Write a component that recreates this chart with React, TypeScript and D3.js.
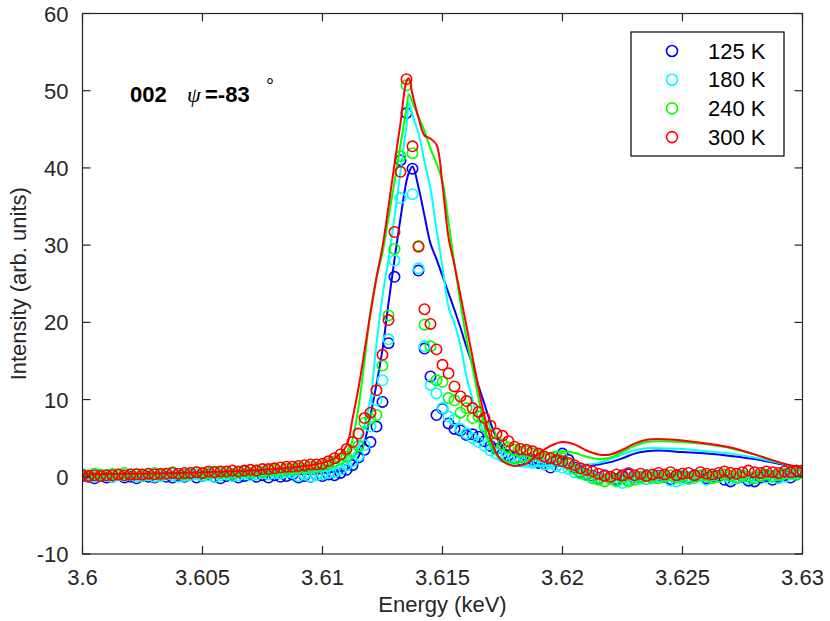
import React from 'react';
import * as d3 from 'd3';

// Measured energies (keV)
const energy = [3.6,3.60025,3.6005,3.60075,3.601,3.60125,3.6015,3.60175,3.602,3.60225,3.6025,3.60275,3.603,3.60325,3.6035,3.60375,3.604,3.60425,3.6045,3.60475,3.605,3.60525,3.6055,3.60575,3.606,3.60625,3.6065,3.60675,3.607,3.60725,3.6075,3.60775,3.608,3.60825,3.6085,3.60875,3.609,3.60925,3.6095,3.60975,3.61,3.61025,3.6105,3.61075,3.611,3.61125,3.6115,3.61175,3.612,3.61225,3.6125,3.61275,3.613,3.61325,3.6135,3.61375,3.614,3.61425,3.6145,3.61475,3.615,3.61525,3.6155,3.61575,3.616,3.61625,3.6165,3.61675,3.617,3.61725,3.6175,3.61775,3.618,3.61825,3.6185,3.61875,3.619,3.61925,3.6195,3.61975,3.62,3.62025,3.6205,3.62075,3.621,3.62125,3.6215,3.62175,3.622,3.62225,3.6225,3.62275,3.623,3.62325,3.6235,3.62375,3.624,3.62425,3.6245,3.62475,3.625,3.62525,3.6255,3.62575,3.626,3.62625,3.6265,3.62675,3.627,3.62725,3.6275,3.62775,3.628,3.62825,3.6285,3.62875,3.629,3.62925,3.6295,3.62975,3.63];

const data125 = [0.1,0.0,-0.2,0.1,-0.1,0.0,0.2,-0.1,0.0,-0.2,
 0.1,0.0,-0.1,0.2,0.0,-0.1,0.1,0.0,0.2,-0.1,
 0.1,0.3,0.0,-0.2,0.1,0.2,-0.1,0.1,0.3,0.0,
 0.2,-0.1,0.2,0.0,0.1,0.3,-0.1,0.1,0.0,0.2,
 0.1,0.3,0.2,0.5,
 0.9,1.5,2.5,3.5,4.5,6.5,9.7,17.3,25.9,41.0,
 47.1,39.9,26.7,16.6,13.0,8.0,8.8,6.9,6.2,6.0,
 5.4,5.5,5.2,4.6,4.0,3.6,3.0,2.8,2.4,2.2,
 2.0,2.2,1.8,1.6,1.2,2.0,3.0,2.2,1.2,0.6,
 0.3,
 0.1,-0.2,0.2,0.0,-0.3,0.1,0.3,-0.1,0.0,0.2,
 -0.2,0.1,0.0,-0.3,0.2,0.0,-0.1,0.2,0.1,-0.2,
 0.0,0.1,-0.4,-0.6,-0.2,0.0,-0.5,-0.6,-0.1,0.1,
 -0.4,0.0,0.2,-0.1,0.3,0.6];

const data180 = [0.2,0.1,0.0,0.2,0.1,0.0,0.2,0.1,0.3,0.0,
 0.1,0.2,0.0,0.1,0.3,0.2,0.0,0.1,0.2,0.3,
 0.1,0.2,0.0,0.2,0.3,0.1,0.2,0.4,0.2,0.3,
 0.5,0.3,0.5,0.4,0.6,0.5,0.1,0.3,0.0,0.2,
 0.3,0.5,0.6,0.9,
 1.5,2.0,2.7,4.1,6.5,9.9,12.5,17.8,28.0,36.1,
 null,36.6,27.0,16.9,11.9,10.8,8.9,7.8,7.4,6.2,
 5.6,5.0,4.5,4.0,3.4,3.0,2.6,2.4,2.2,2.0,
 2.0,1.8,2.0,1.6,1.8,1.4,1.2,1.0,0.6,0.4,
 0.2,
 0.0,-0.3,0.1,-0.2,-0.6,-0.8,-0.4,0.0,-0.3,0.1,
 -0.2,0.0,0.2,-0.5,-0.6,-0.3,0.0,-0.2,0.1,-0.4,
 -0.1,0.0,0.2,-0.3,-0.2,0.1,-0.3,0.0,0.2,-0.1,
 0.1,-0.2,0.0,0.3,0.4,0.7];

const data240 = [0.3,0.2,0.4,0.3,0.2,0.4,0.3,0.5,0.3,0.4,
 0.2,0.4,0.5,0.3,0.4,0.6,0.4,0.3,0.5,0.6,
 0.4,0.5,0.7,0.5,0.6,0.4,0.6,0.7,0.5,0.8,
 0.6,0.8,0.9,0.7,1.0,0.9,1.1,1.0,1.3,1.2,
 1.5,1.7,2.0,2.3,
 2.6,3.3,4.0,7.0,7.5,8.0,14.4,20.9,29.5,41.5,
 50.7,41.9,29.9,19.7,16.9,12.5,12.3,10.2,9.9,8.3,
 8.9,7.6,7.8,6.5,5.5,4.5,4.2,3.8,3.5,3.2,
 3.3,3.0,2.8,2.6,2.4,2.6,2.4,1.6,1.0,0.5,
 0.2,
 -0.2,-0.4,-0.6,-0.3,-0.5,-0.2,-0.6,-0.4,0.0,-0.3,
 0.1,-0.2,0.0,0.2,-0.1,0.1,-0.3,0.0,0.2,0.1,
 -0.2,0.0,0.3,0.1,-0.1,0.2,0.0,-0.2,0.1,0.3,
 0.0,0.2,0.4,0.5,0.3,0.8];

const data300 = [0.2,0.1,0.2,0.1,0.2,0.2,0.3,0.2,0.3,0.3,
 0.3,0.4,0.3,0.4,0.4,0.5,0.4,0.5,0.5,0.6,
 0.5,0.7,0.6,0.7,0.7,0.8,0.7,0.8,0.9,0.8,
 1.0,1.0,1.1,1.2,1.3,1.3,1.4,1.5,1.6,1.6,
 1.7,2.0,2.4,2.9,
 3.6,4.5,5.6,7.6,8.3,11.2,15.8,20.3,31.7,39.5,
 51.5,42.8,29.8,21.7,19.8,16.5,14.5,13.4,11.7,10.4,
 9.8,8.9,8.4,7.6,6.6,5.6,5.3,4.6,3.9,3.6,
 3.5,3.3,3.0,2.6,2.4,2.2,2.0,1.8,1.5,1.1,
 0.9,
 0.7,0.4,0.1,0.0,0.3,0.2,0.5,0.2,0.4,0.1,
 0.3,0.5,0.3,0.6,0.2,0.4,0.5,0.2,0.6,0.4,
 0.3,0.5,0.7,0.5,0.4,0.6,0.8,0.6,0.5,0.7,
 0.6,0.5,0.7,0.6,0.8,0.8];

// Calculated spectra (keV)
const fitEnergy = [3.6,3.602,3.604,3.606,3.607,3.608,3.609,3.6095,3.61,3.6105,
 3.611,3.61125,3.6115,3.61175,3.612,3.61225,3.6125,3.61275,3.613,3.61325,
 3.6135,3.6136,3.61375,3.614,3.61425,3.6145,3.61475,3.615,3.61525,3.6155,
 3.61575,3.616,3.61625,3.6165,3.61675,3.617,3.61725,3.6175,3.61775,3.618,
 3.6185,3.619,3.6195,3.62,3.6205,3.621,3.6215,3.622,3.6225,3.623,
 3.6235,3.624,3.625,3.626,3.627,3.628,3.629,3.63];

const fit125 = [0.0,0.05,0.1,0.15,0.2,0.25,0.35,0.4,0.5,0.65,
 0.9,1.5,2.6,4.5,8.0,12.0,16.5,22.5,28.2,33.5,
 38.3,39.4,40.2,37.5,33.8,30.2,28.2,26.0,23.8,21.6,
 19.3,16.8,14.5,11.8,9.4,7.0,5.1,4.0,3.2,2.8,
 2.1,1.7,1.5,1.5,1.5,1.5,1.6,1.9,2.4,3.0,
 3.3,3.4,3.2,3.0,2.7,2.3,1.7,1.1];

const fit180 = [0.05,0.1,0.15,0.2,0.25,0.3,0.45,0.55,0.7,1.0,
 1.6,2.6,4.0,6.6,10.2,17.2,23.4,28.2,33.6,39.6,
 45.5,48.4,46.8,44.5,40.8,37.3,32.0,27.2,22.0,19.8,
 17.0,13.0,10.0,7.5,5.6,4.1,2.9,2.2,1.8,1.5,
 1.3,1.4,1.5,1.6,1.6,1.6,1.8,2.3,2.9,3.4,
 3.7,3.7,3.6,3.3,3.0,2.5,1.8,1.1];

const fit240 = [0.15,0.2,0.3,0.4,0.5,0.6,0.8,1.0,1.3,1.8,
 2.6,4.8,9.0,15.0,21.5,25.8,29.0,33.5,38.2,43.0,
 47.8,49.5,48.5,46.6,44.8,42.5,40.6,38.2,33.0,27.5,
 22.5,17.8,14.2,10.2,6.5,4.0,2.8,2.2,1.9,1.8,
 2.1,2.7,3.1,3.3,3.1,2.6,2.3,2.5,3.2,4.0,
 4.5,4.6,4.5,4.2,3.7,2.9,1.9,1.1];

const fit300 = [0.3,0.4,0.5,0.7,0.8,1.0,1.3,1.5,1.8,2.4,
 4.0,7.5,11.5,16.3,21.2,25.8,29.8,35.0,40.5,45.8,
 51.2,51.6,49.5,46.5,44.2,43.8,43.0,37.8,31.0,27.4,
 23.5,19.5,15.5,11.5,7.8,5.0,3.0,2.0,1.6,1.4,
 1.7,3.0,4.0,4.5,4.2,3.4,2.9,2.9,3.5,4.3,
 4.8,4.9,4.7,4.3,3.8,2.9,1.9,1.1];

const seriesNames = ['125 K', '180 K', '240 K', '300 K'];
const seriesColors = ['#0000ff', '#00ffff', '#00ff00', '#ff0000'];
const seriesData = [data125, data180, data240, data300];
const seriesFits = [fit125, fit180, fit240, fit300];

const xTicks = [3.6, 3.605, 3.61, 3.615, 3.62, 3.625, 3.63];
const xTickLabels = ['3.6', '3.605', '3.61', '3.615', '3.62', '3.625', '3.63'];
const yTicks = [-10, 0, 10, 20, 30, 40, 50, 60];
const yTickLabels = ['-10', '0', '10', '20', '30', '40', '50', '60'];

const FONT = '"Liberation Sans", Arial, Helvetica, sans-serif';
const AX = '#262626';

export default function App() {
  const W = 830, H = 621;
  const L = 82.5, R = 802.5, T = 13.5, B = 554;
  const x = d3.scaleLinear().domain([3.6, 3.63]).range([L, R]);
  const y = d3.scaleLinear().domain([-10, 60]).range([B, T]);
  const line = d3.line<[number, number]>()
    .x(d => x(d[0]))
    .y(d => y(d[1]))
    .curve(d3.curveCatmullRom.alpha(0.5));
  const tick = 8;
  const fs = 22;

  return (
    <svg width={W} height={H} style={{ position: 'absolute', left: 0, top: 0, background: '#fff' }} fontFamily={FONT}>
      <rect x={0} y={0} width={W} height={H} fill="#fff" />
      <defs>
        <clipPath id="plotclip">
          <rect x={L} y={T} width={R - L} height={B - T} />
        </clipPath>
      </defs>
      <g clipPath="url(#plotclip)">
        {seriesNames.map((name, s) => {
          const pts = energy.map((e, i) => [e, seriesData[s][i]] as [number, number | null]);
          const fitPts = fitEnergy.map((e, i) => [e, seriesFits[s][i]] as [number, number]);
          return (
            <g key={name}>
              {pts.filter(p => p[1] !== null).map((p, i) => (
                <circle key={i} cx={x(p[0])} cy={y(p[1] as number)} r={5.2}
                  fill="none" stroke={seriesColors[s]} strokeWidth={1.6} />
              ))}
              <path d={line(fitPts) || ''} fill="none" stroke={seriesColors[s]} strokeWidth={2} />
            </g>
          );
        })}
      </g>
      {/* axes box */}
      <rect x={L} y={T} width={R - L} height={B - T} fill="none" stroke={AX} strokeWidth={1.2} />
      {xTicks.map((t, i) => (
        <g key={'xt' + i}>
          <line x1={x(t)} x2={x(t)} y1={B} y2={B - tick} stroke={AX} strokeWidth={1.2} />
          <line x1={x(t)} x2={x(t)} y1={T} y2={T + tick} stroke={AX} strokeWidth={1.2} />
          <text x={x(t)} y={B + 31} textAnchor="middle" fontSize={fs} fill={AX}>{xTickLabels[i]}</text>
        </g>
      ))}
      {yTicks.map((t, i) => (
        <g key={'yt' + i}>
          <line x1={L} x2={L + tick} y1={y(t)} y2={y(t)} stroke={AX} strokeWidth={1.2} />
          <line x1={R} x2={R - tick} y1={y(t)} y2={y(t)} stroke={AX} strokeWidth={1.2} />
          <text x={L - 14} y={y(t) + 8} textAnchor="end" fontSize={fs} fill={AX}>{yTickLabels[i]}</text>
        </g>
      ))}
      <text x={(L + R) / 2} y={612} textAnchor="middle" fontSize={fs} fill={AX}>Energy (keV)</text>
      <text transform={`translate(26,${(T + B) / 2}) rotate(-90)`} textAnchor="middle" fontSize={fs} fill={AX}>Intensity (arb. units)</text>

      {/* annotation */}
      <text x={130} y={102} fontSize={fs} fontWeight="bold" fill="#000">002</text>
      <text x={187} y={102} fontSize={fs} fontStyle="italic" fontFamily='"Liberation Serif", "Times New Roman", serif' fill="#000">ψ</text>
      <text x={205} y={102} fontSize={fs} fontWeight="bold" fill="#000">=-83</text>
      <text x={266} y={93} fontSize={20} fill="#000">°</text>

      {/* legend */}
      <rect x={631} y={32} width={153} height={124} fill="#fff" stroke="#000" strokeWidth={1.2} />
      {seriesNames.map((name, s) => (
        <g key={'lg' + s}>
          <circle cx={672} cy={51 + s * 28.7} r={5.5} fill="none" stroke={seriesColors[s]} strokeWidth={1.6} />
          <text x={708} y={58.5 + s * 28.7} fontSize={fs} fill="#000">{name}</text>
        </g>
      ))}
    </svg>
  );
}
